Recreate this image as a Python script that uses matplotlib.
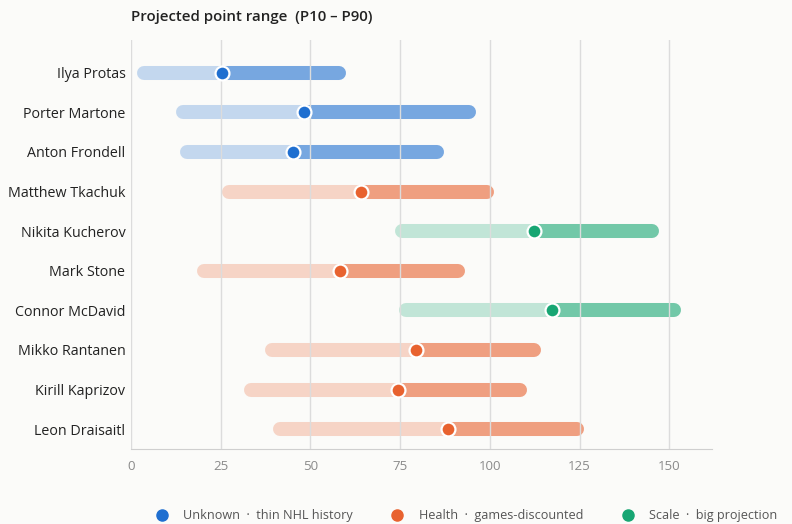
import matplotlib.pyplot as plt
from matplotlib.lines import Line2D

# players top to bottom, with P10 / median / P90 projected points
players = ["Ilya Protas", "Porter Martone", "Anton Frondell", "Matthew Tkachuk",
           "Nikita Kucherov", "Mark Stone", "Connor McDavid", "Mikko Rantanen",
           "Kirill Kaprizov", "Leon Draisaitl"]
p10 = [1.7, 12.5, 13.7, 25.4, 73.6, 18.4, 74.7, 37.4, 31.5, 39.6]
median = [25.4, 48.2, 45.2, 64.1, 112.4, 58.3, 117.4, 79.5, 74.4, 88.4]
p90 = [60.0, 96.2, 87.3, 101.2, 147.2, 93.1, 153.3, 114.3, 110.4, 126.3]
group = ["unknown", "unknown", "unknown", "health", "scale",
         "health", "scale", "health", "health", "health"]

group_names = ["unknown", "health", "scale"]
group_labels = ["Unknown  \u00b7  thin NHL history",
                "Health  \u00b7  games-discounted",
                "Scale  \u00b7  big projection"]
group_colors = {"unknown": "#1f6fd0", "health": "#e8622f", "scale": "#17a673"}

plt.rcParams['font.family'] = ['Open Sans', 'DejaVu Sans']

fig = plt.figure(figsize=(7.92, 5.24), dpi=100)
fig.patch.set_facecolor("#fbfbf9")
ax = fig.add_axes([0.1654, 0.1431, 0.734, 0.781])
ax.set_facecolor("#fbfbf9")

xmax = 162
ax.set_xlim(0, xmax)
ax.set_ylim(len(players) - 0.5, -0.83)

# bar thickness in points, and round cap radius in data units
lw = 10.1
cap = (lw / 2) * 100 / 72 / (0.734 * 792) * xmax

for i, name in enumerate(players):
    c = group_colors[group[i]]
    ax.plot([p10[i] + cap, median[i]], [i, i], color=c, alpha=0.25, lw=lw,
            solid_capstyle="round", zorder=2)
    ax.plot([median[i], p90[i] - cap], [i, i], color=c, alpha=0.6, lw=lw,
            solid_capstyle="round", zorder=2)
    ax.plot(median[i], i, "o", color=c, markersize=10, markeredgecolor="white",
            markeredgewidth=1.6, zorder=4)

ax.set_yticks(range(len(players)))
ax.set_yticklabels(players, fontsize=10.3, color="#222222")
ax.set_xticks([0, 25, 50, 75, 100, 125, 150])
ax.tick_params(axis="x", colors="#8a8a8a", labelsize=9.5, length=0, pad=8)
ax.tick_params(axis="y", length=0, pad=4)
for lbl in ax.get_xticklabels():
    lbl.set_color("#8a8a8a")

ax.grid(axis="x", color="#dcdcdc", lw=1, zorder=3)
ax.set_axisbelow(False)
for s in ["top", "right", "left"]:
    ax.spines[s].set_visible(False)
ax.spines["bottom"].set_color("#cfcfcf")
ax.spines["bottom"].set_zorder(1)

fig.text(0.1654, 0.955, "Projected point range  (P10 \u2013 P90)", fontsize=10.8,
         fontweight="semibold", color="#222222", va="bottom")

handles = [Line2D([], [], marker="o", ls="", color=group_colors[g], markersize=8)
           for g in group_names]
leg = fig.legend(handles, group_labels, loc="lower center", ncol=3, frameon=False,
                 bbox_to_anchor=(0.585, -0.018), fontsize=9.1, columnspacing=2.5,
                 handletextpad=0.7)
for t in leg.get_texts():
    t.set_color("#555555")

fig.savefig("out.png", dpi=100, facecolor=fig.get_facecolor())
